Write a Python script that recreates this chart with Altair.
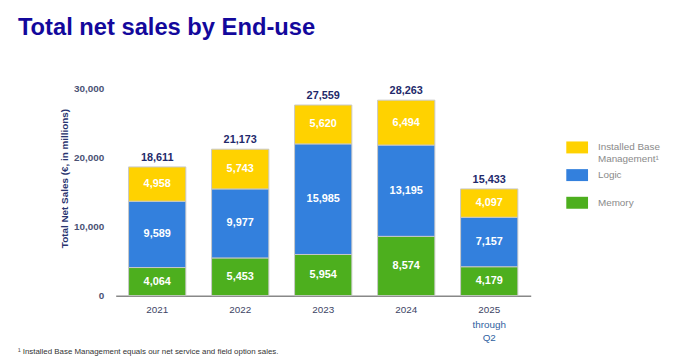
import altair as alt
import pandas as pd

years = ["2021", "2022", "2023", "2024", "2025"]
memory = [4064, 5453, 5954, 8574, 4179]
logic = [9589, 9977, 15985, 13195, 7157]
ibm = [4958, 5743, 5620, 6494, 4097]
totals = [18611, 21173, 27559, 28263, 15433]
segments = ["Installed Base Management", "Logic", "Memory"]
colors = ["#FFD200", "#3380DD", "#4DAF1E"]

rows = []
for i, y in enumerate(years):
    base = 0
    for seg, vals, o in [("Memory", memory, 0), ("Logic", logic, 1), ("Installed Base Management", ibm, 2)]:
        v = vals[i]
        rows.append({"year": y, "segment": seg, "value": v, "order": o,
                     "mid": base + v / 2, "label": f"{v:,}"})
        base += v
df = pd.DataFrame(rows)
tot = pd.DataFrame({"year": years, "total": totals, "label": [f"{t:,}" for t in totals]})

FONT = "Liberation Sans"
W, H = 420, 210

xenc = alt.X("year:N", sort=years, scale=alt.Scale(paddingInner=0.31, paddingOuter=0.155),
             axis=alt.Axis(title=None, labelAngle=0, labelFont=FONT, labelFontSize=10,
                           labelColor="#3d4466", domainColor="#888888", domainWidth=1.5,
                           ticks=False, labelPadding=9))

bars = alt.Chart(df).mark_bar(stroke="#c8c8c8", strokeWidth=1).encode(
    x=xenc,
    y=alt.Y("value:Q", stack="zero", scale=alt.Scale(domain=[0, 30000], nice=False),
            axis=alt.Axis(title="Total Net Sales (€, in millions)", values=[0, 10000, 20000, 30000],
                          format=",.0f", grid=False, domain=False, ticks=False,
                          labelFont=FONT, labelFontSize=10, labelFontWeight="bold",
                          labelColor="#4a5275", labelPadding=12,
                          titleFont=FONT, titleFontSize=10, titleFontWeight="bold",
                          titleColor="#2a3570", titlePadding=4, titleY=91)),
    color=alt.Color("segment:N", sort=segments,
                    scale=alt.Scale(domain=segments, range=colors),
                    legend=alt.Legend(title=None, orient="none", legendX=456, legendY=49,
                                      labelFont=FONT, labelFontSize=10, labelColor="#8a8a8a",
                                      symbolType="M-1,-0.55H1V0.55H-1Z", symbolSize=484,
                                      symbolStrokeWidth=0, rowPadding=0, labelOffset=10,
                                      gridAlign="all",
                                      labelExpr="datum.label == 'Installed Base Management' ? ['Installed Base', 'Management¹'] : datum.label")),
    order=alt.Order("order:Q"),
)

inner = alt.Chart(df).mark_text(color="white", fontWeight="bold", font=FONT, fontSize=11).encode(
    x=alt.X("year:N", sort=years), y=alt.Y("mid:Q"), text="label:N")

toplab = alt.Chart(tot).mark_text(color="#1f2a6b", fontWeight="bold", font=FONT, fontSize=11,
                                  dy=-9).encode(
    x=alt.X("year:N", sort=years), y=alt.Y("total:Q"), text="label:N")

q2 = alt.Chart(pd.DataFrame({"year": ["2025"], "t": [["through", "Q2"]]})).mark_text(
    color="#2f5f9f", font=FONT, fontSize=10, baseline="top", lineHeight=13).encode(
    x=alt.X("year:N", sort=years), y=alt.value(H + 25), text="t")

title = alt.Chart(pd.DataFrame({"t": ["Total net sales by End-use"]})).mark_text(
    font=FONT, fontSize=24, fontWeight="bold", color="#13089c", align="left", baseline="alphabetic").encode(
    x=alt.value(-99), y=alt.value(-54), text="t:N")

foot = alt.Chart(pd.DataFrame({"t": ["¹ Installed Base Management equals our net service and field option sales."]})).mark_text(
    font=FONT, fontSize=8, color="#333333", align="left", baseline="alphabetic").encode(
    x=alt.value(-99), y=alt.value(H + 59), text="t:N")

chart = alt.layer(bars, inner, toplab, q2, title, foot).properties(
    width=W, height=H,
    autosize=alt.AutoSizeParams(type="none"),
    padding={"left": 109, "top": 79, "right": 145, "bottom": 62},
).configure_view(stroke=None)

chart.save("out.html", embed_options={"renderer": "svg", "actions": False})
